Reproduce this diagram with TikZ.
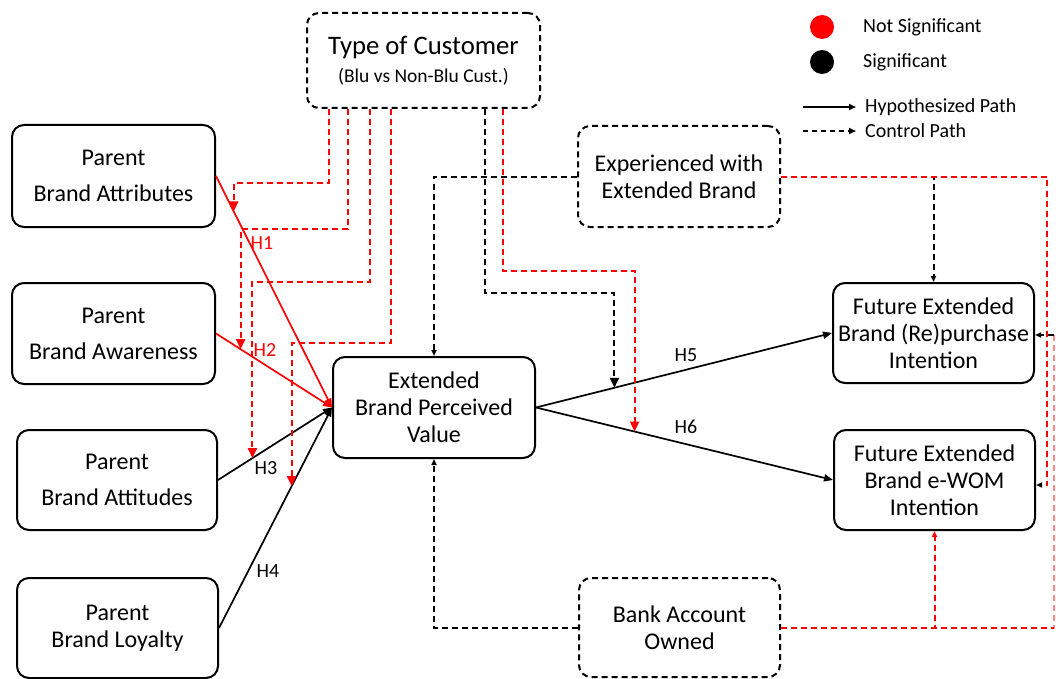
\documentclass[tikz,border=0pt]{standalone}
\usepackage{fontspec}
\setmainfont{Carlito}
\usetikzlibrary{arrows.meta,calc}
\begin{document}
\begin{tikzpicture}[x=1pt,y=-1pt,
  box/.style={draw, line width=2pt, rounded corners=12pt, inner sep=2pt, align=center,
    font=\fontsize{24}{27}\selectfont},
  lbox/.style={box, font=\fontsize{24}{36}\selectfont},
  dbox/.style={box, dash pattern=on 6pt off 4pt},
  hyp/.style={line width=1.7pt, -{Triangle[length=9pt,width=7pt]}},
  ctrl/.style={line width=2pt, dash pattern=on 6pt off 4pt},
  modtip/.style={-{Triangle[length=10pt,width=9pt]}},
  smalltip/.style={-{Triangle[length=6pt,width=5pt]}},
  hlab/.style={font=\fontsize{20}{22}\selectfont, inner sep=0pt},
  leg/.style={font=\fontsize{20}{22}\selectfont, inner sep=0pt, anchor=west}
]
\useasboundingbox (0,0) rectangle (1056,679);

% nodes
\node[dbox, minimum width=233pt, minimum height=95pt] (tc) at (423.5,60.5)
  {{\fontsize{26.7}{30}\selectfont Type of Customer}\\[1pt]{\fontsize{19.5}{22}\selectfont (Blu vs Non-Blu Cust.)}};
\node[lbox, minimum width=203pt, minimum height=102pt] (pa) at (113.5,176) {Parent\\Brand Attributes};
\node[lbox, minimum width=203pt, minimum height=101pt] (paw) at (113.5,333.5) {Parent\\Brand Awareness};
\node[lbox, minimum width=200pt, minimum height=100pt] (pat) at (117,480) {Parent\\Brand Attitudes};
\node[box, minimum width=201pt, minimum height=100pt] (pl) at (117.5,628) {Parent\\Brand Loyalty};
\node[box, minimum width=202pt, minimum height=101pt] (ebpv) at (434,407.5) {Extended\\Brand Perceived\\Value};
\node[dbox, minimum width=202pt, minimum height=101pt] (exp) at (679,176.5) {Experienced with\\Extended Brand};
\node[box, minimum width=201pt, minimum height=100pt] (fp) at (933.5,333) {Future Extended\\Brand (Re)purchase\\Intention};
\node[box, minimum width=201pt, minimum height=100pt] (fe) at (934.5,480) {Future Extended\\Brand e-WOM\\Intention};
\node[dbox, minimum width=201pt, minimum height=99pt] (bao) at (679.5,627.5) {Bank Account\\Owned};

% hypothesized paths
\draw[hyp, red] (pa.east) -- (ebpv.west);
\draw[hyp, red] (paw.east) -- (ebpv.west);
\draw[hyp] (pat.east) -- (ebpv.west);
\draw[hyp] (pl.east) -- (ebpv.west);
\draw[hyp] (ebpv.east) -- (fp.west);
\draw[hyp] (ebpv.east) -- (fe.west);

\node[hlab, red] (h1) at (262,243) {H1};
\node[hlab, red] (h2) at (265,350) {H2};
\node[hlab] (h3) at (266,468) {H3};
\node[hlab] (h4) at (268,571) {H4};
\node[hlab] (h5) at (686,355) {H5};
\node[hlab] (h6) at (686,427) {H6};

% moderation points on paths
\coordinate (m1) at ($(pa.east)!0.153!(ebpv.west)$);
\coordinate (m2) at ($(paw.east)!0.212!(ebpv.west)$);
\coordinate (m3) at ($(pat.east)!0.302!(ebpv.west)$);
\coordinate (m4) at ($(pl.east)!0.643!(ebpv.west)$);
\coordinate (m5) at ($(ebpv.east)!0.265!(fp.west)$);
\coordinate (m6) at ($(ebpv.east)!0.332!(fe.west)$);

% type of customer control paths
\draw[ctrl, red, modtip] ([xshift=-94.5pt]tc.south) -- ++(0,74) -| (m1);
\draw[ctrl, red, modtip] ([xshift=-75.5pt]tc.south) -- ++(0,120) -| (m2);
\draw[ctrl, red, modtip] ([xshift=-53.5pt]tc.south) -- ++(0,173) -| (m3);
\draw[ctrl, red, modtip] ([xshift=-32.5pt]tc.south) -- ++(0,234) -| (m4);
\draw[ctrl, modtip] ([xshift=61.5pt]tc.south) -- ++(0,184) -| (m5);
\draw[ctrl, red, modtip] ([xshift=79.5pt]tc.south) -- ++(0,162) -| (m6);

% experienced with extended brand
\draw[ctrl, smalltip] (exp.west) -| (ebpv.north);
\draw[ctrl, smalltip] (exp.east) -| (fp.north);
\coordinate (r1) at (1047,485);
\draw[ctrl, red, -{Triangle[length=6pt,width=5pt,color=black]}] (exp.east) -| (r1) -- (r1 -| fe.east);

% bank account owned
\draw[ctrl, smalltip] (bao.west) -| (ebpv.south);
\coordinate (r2) at (1054,335);
\draw[ctrl, red!45] (bao.east) -| (r2);
\draw[ctrl, red, smalltip] (bao.east) -| (fe.south);
\draw[ctrl, red] (bao.east) -- (bao.east -| r2);
\draw[ctrl, smalltip] (r2) -- (r2 -| fp.east);

% legend
\fill[red] (822,27) circle (12pt);
\fill[black] (822,62) circle (12pt);
\node[leg] (lns) at (863,27) {Not Significant};
\node[leg] (ls) at (863,62) {Significant};
\node[leg] (lh) at (865,107) {Hypothesized Path};
\node[leg] (lc) at (865,131) {Control Path};
\coordinate (a1) at (803,107);
\coordinate (a2) at (803,131);
\draw[line width=1.6pt, -{Triangle[length=7pt,width=6pt]}] (a1) -- ([xshift=-9pt]a1 -| lh.west);
\draw[line width=1.6pt, dash pattern=on 5pt off 4pt, -{Triangle[length=7pt,width=6pt]}] (a2) -- ([xshift=-9pt]a2 -| lc.west);
\end{tikzpicture}
\end{document}
